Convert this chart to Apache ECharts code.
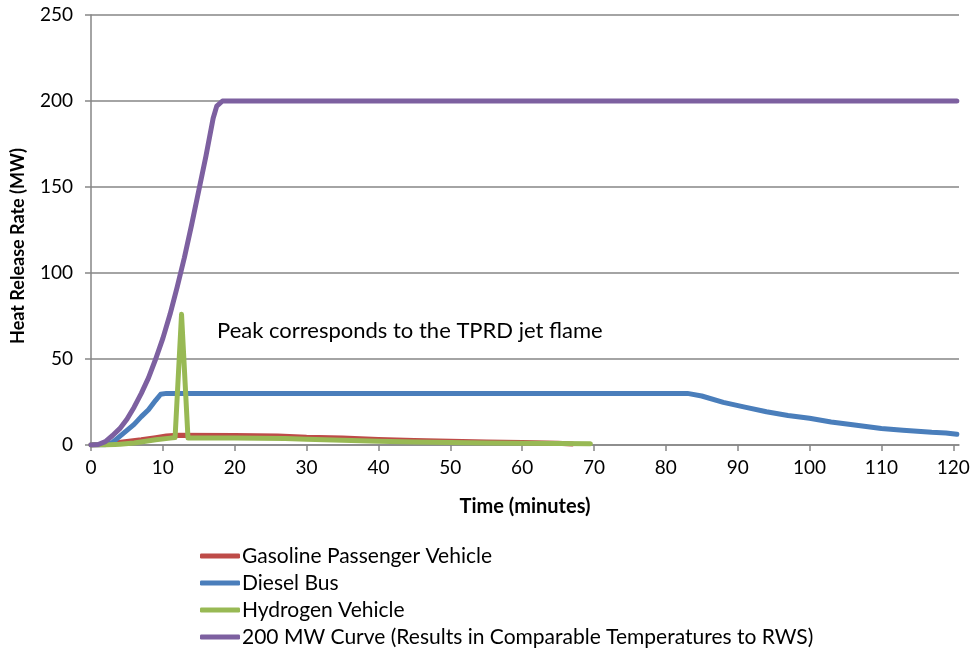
<!DOCTYPE html>
<html>
<head>
<meta charset="utf-8">
<script src="https://cdn.jsdelivr.net/npm/echarts@6/dist/echarts.min.js"></script>
<style>
  html, body { margin: 0; padding: 0; background: #fff; }
  #chart { width: 977px; height: 650px; }
</style>
</head>
<body>
<div id="chart"></div>
<script>
// Series names
const seriesNames = [
  'Gasoline Passenger Vehicle',
  'Diesel Bus',
  'Hydrogen Vehicle',
  '200 MW Curve (Results in Comparable Temperatures to RWS)'
];

// [time (minutes), heat release rate (MW)]
const gasolineData = [
  [0, 0], [1, 0.2], [3, 1], [5, 2], [7, 3], [9, 4.2], [10.5, 5.2], [11.5, 5.6],
  [20, 5.5], [26, 5.3], [30, 4.5], [35, 4], [40, 3.2], [45, 2.6], [50, 2.2],
  [55, 1.8], [60, 1.4], [65, 1.0], [67, 0.6]
];

const dieselData = [
  [0, 0], [2, 0.2], [3, 1.5], [4, 5], [5, 8.5], [6, 12], [7, 16.5], [8, 20.5],
  [9, 26], [9.7, 29.5], [10.5, 30], [83, 30], [85, 28.5], [88, 24.8], [91, 22],
  [94, 19.3], [97, 17.2], [100, 15.5], [103, 13.4], [106, 11.8], [110, 9.6],
  [113, 8.6], [117, 7.4], [119, 7.0], [120.5, 6.2]
];

const hydrogenData = [
  [0, 0], [2, 0], [4, 0.5], [6, 1.2], [9, 3], [11, 4], [11.7, 4.3], [12.6, 76],
  [13.5, 4], [20, 4], [27, 3.8], [30, 3.3], [35, 2.7], [40, 2.2], [45, 1.8],
  [50, 1.5], [55, 1.2], [60, 1.0], [65, 0.8], [69.5, 0.7]
];

const curve200Data = [
  [0, 0], [1, 0.3], [2, 2], [3, 5.5], [4, 9.5], [5, 15], [6, 22], [7, 30],
  [8, 39], [9, 50], [10, 62], [11, 76], [12, 92], [13, 109], [14, 128],
  [15, 148], [16, 168], [17, 190], [17.5, 197], [18.3, 200], [120.5, 200]
];

const xTickValues = [0, 10, 20, 30, 40, 50, 60, 70, 80, 90, 100, 110, 120];
const xAxisTitle = 'Time (minutes)';
const yAxisTitle = 'Heat Release Rate (MW)';
const annotationText = 'Peak corresponds to the TPRD jet flame';

const colors = ['#BE4B48', '#4A7EBB', '#98B954', '#7D60A0'];
const dataSets = [gasolineData, dieselData, hydrogenData, curve200Data];
const FONT = 'Lato, "Open Sans", sans-serif';
const GRID_GRAY = '#868686';

const chart = echarts.init(document.getElementById('chart'), null, { renderer: 'canvas' });

const option = {
  animation: false,
  backgroundColor: '#ffffff',
  color: colors,
  grid: { left: 91, right: 18, top: 15, bottom: 205, containLabel: false },
  xAxis: {
    type: 'value',
    min: 0,
    max: 120.8,
    name: xAxisTitle,
    nameLocation: 'middle',
    nameGap: 52,
    nameTextStyle: { fontFamily: FONT, fontSize: 20, fontWeight: 'bold', color: '#000' },
    axisLine: { show: true, lineStyle: { color: GRID_GRAY, width: 1.5 } },
    axisTick: { show: true, length: 6, lineStyle: { color: GRID_GRAY, width: 1.5 }, customValues: xTickValues },
    axisLabel: { fontFamily: FONT, fontSize: 19, color: '#000', margin: 13, customValues: xTickValues },
    splitLine: { show: false }
  },
  yAxis: {
    type: 'value',
    min: 0,
    max: 250,
    interval: 50,
    axisLine: { show: true, lineStyle: { color: GRID_GRAY, width: 1.5 } },
    axisTick: { show: true, length: 6, lineStyle: { color: GRID_GRAY, width: 1.5 } },
    axisLabel: { fontFamily: FONT, fontSize: 19, color: '#000', margin: 18 },
    splitLine: { show: true, lineStyle: { color: GRID_GRAY, width: 1.5 } }
  },
  legend: {
    orient: 'vertical',
    left: 200,
    top: 545,
    padding: 0,
    itemGap: 5,
    itemWidth: 40,
    itemHeight: 5,
    icon: 'roundRect',
    textStyle: { fontFamily: FONT, fontSize: 21, color: '#000', lineHeight: 22, padding: [0, 0, 0, -3] },
    data: seriesNames
  },
  graphic: [
    {
      type: 'text',
      left: 217,
      top: 320,
      style: { text: annotationText, font: '22px ' + FONT, fill: '#000' },
      silent: true
    },
    {
      type: 'text',
      x: 18,
      y: 246,
      rotation: Math.PI / 2,
      style: {
        text: yAxisTitle,
        font: 'bold 18px ' + FONT,
        fill: '#000',
        align: 'center',
        verticalAlign: 'middle'
      },
      silent: true
    }
  ],
  series: seriesNames.map((name, i) => ({
    name: name,
    type: 'line',
    data: dataSets[i],
    showSymbol: false,
    symbol: 'none',
    smooth: false,
    lineStyle: { width: 5, color: colors[i], cap: 'round', join: 'round' },
    itemStyle: { color: colors[i] },
    z: 2 + i
  }))
};

chart.setOption(option);
</script>
</body>
</html>
